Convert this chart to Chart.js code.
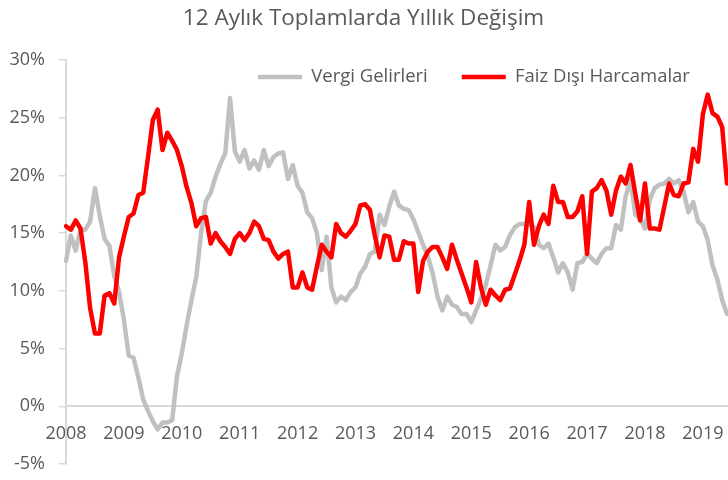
<!DOCTYPE html>
<html><head><meta charset="utf-8">
<script src="https://cdn.jsdelivr.net/npm/chart.js@4/dist/chart.umd.min.js"></script>
<style>html,body{margin:0;padding:0;background:#fff}</style>
</head><body>
<canvas id="c" width="728" height="480"></canvas>
<script>
const yearTicks = ['2008','2009','2010','2011','2012','2013','2014','2015','2016','2017','2018','2019'];
const monthNames = ['01','02','03','04','05','06','07','08','09','10','11','12'];
const pointCount = 138; // Jan 2008 - Jun 2019
const categories = [];
yearTicks.forEach(y => monthNames.forEach(m => categories.push(y + '-' + m)));
categories.length = pointCount;

const vergiGelirleri = [
 12.6,14.8,13.5,15.3,15.3,16.0,18.9,16.5,14.5,13.9,11.3,9.9,
 7.5,4.4,4.2,2.5,0.6,-0.4,-1.3,-2.0,-1.4,-1.4,-1.2,2.6,
 4.6,7.0,9.2,11.2,15.0,17.8,18.5,19.9,21.0,21.9,26.7,22.1,
 21.2,22.2,20.6,21.3,20.5,22.2,20.8,21.6,21.9,22.0,19.7,20.9,
 19.1,18.5,16.8,16.3,15.0,11.8,14.7,10.3,9.0,9.5,9.2,9.9,
 10.3,11.5,12.1,13.2,13.4,16.6,15.7,17.3,18.6,17.4,17.1,17.0,
 16.2,15.1,14.0,13.0,11.5,9.5,8.3,9.5,8.8,8.6,8.0,8.0,
 7.3,8.3,9.3,10.5,12.2,14.0,13.5,13.8,14.8,15.5,15.8,15.8,
 15.8,15.5,14.0,13.7,14.1,12.9,11.6,12.4,11.6,10.1,12.4,12.5,
 13.2,12.8,12.4,13.2,13.7,13.7,15.7,15.3,18.2,19.6,16.6,16.3,
 15.4,17.9,18.9,19.2,19.3,19.7,19.3,19.6,18.6,16.8,17.7,16.0,
 15.6,14.4,12.2,11.0,9.2,8.0
];
const faizDisiHarcamalar = [
 15.6,15.3,16.1,15.4,12.5,8.5,6.3,6.3,9.6,9.8,8.9,12.9,
 14.7,16.4,16.7,18.3,18.5,21.6,24.8,25.7,22.2,23.7,23.0,22.2,
 20.8,19.0,17.6,15.6,16.3,16.4,14.1,15.0,14.3,13.8,13.2,14.5,
 15.0,14.4,15.0,16.0,15.6,14.5,14.4,13.4,12.8,13.2,13.4,10.3,
 10.3,11.6,10.3,10.1,12.1,14.0,13.4,12.9,15.8,15.0,14.7,15.2,
 15.8,17.4,17.5,17.0,14.8,12.9,14.8,14.7,12.7,12.7,14.3,14.1,
 14.1,9.9,12.6,13.4,13.8,13.8,12.9,11.9,14.0,12.7,11.5,10.3,
 9.0,12.5,10.3,8.8,10.1,9.6,9.2,10.1,10.2,11.4,12.6,14.0,
 17.7,14.0,15.6,16.6,15.8,19.1,17.7,17.7,16.4,16.4,16.9,18.2,
 13.2,18.6,18.9,19.6,18.7,16.6,18.7,19.9,19.3,20.9,18.4,16.1,
 19.3,15.4,15.4,15.3,17.3,19.3,18.3,18.2,19.3,19.4,22.3,21.2,
 25.3,27.0,25.4,25.1,24.2,19.3
];
const yTickValues = [-5, 0, 5, 10, 15, 20, 25, 30];

const FONT = "'Open Sans', sans-serif";
const TXT = '#595959';
const AXIS = '#d9d9d9';
const LEGEND_GAP = 34;

// place the library legend as one row inside the plot, like the reference
const legendPlace = {
  id: 'legendPlace',
  afterUpdate(chart) {
    const lg = chart.legend;
    if (!lg) return;
    lg.maxHeight = 30;
    lg.fit();
    lg.left = 258 - LEGEND_GAP;
    lg.right = lg.left + lg.width + 20;
    lg.top = 77 - LEGEND_GAP - 9.25;
    lg.bottom = lg.top + 70;
  }
};

new Chart(document.getElementById('c'), {
  type: 'line',
  data: {
    labels: categories,
    datasets: [
      { label: 'Vergi Gelirleri', data: vergiGelirleri, borderColor: '#c0c0c0', backgroundColor: '#c0c0c0',
        borderWidth: 4.5, pointRadius: 0, tension: 0, order: 1, borderJoinStyle: 'round', borderCapStyle: 'round' },
      { label: 'Faiz Dışı Harcamalar', data: faizDisiHarcamalar, borderColor: '#ff0000', backgroundColor: '#ff0000',
        borderWidth: 4.5, pointRadius: 0, tension: 0, order: 0, borderJoinStyle: 'round', borderCapStyle: 'round' }
    ]
  },
  options: {
    responsive: false,
    animation: false,
    devicePixelRatio: 1,
    layout: { padding: { left: 0, right: 1, top: 0, bottom: 0 } },
    scales: {
      x: {
        type: 'category',
        position: { y: 0 },
        offset: false,
        grid: { display: false, drawTicks: false },
        border: { display: true, color: AXIS, width: 2 },
        afterFit: s => { s.paddingLeft = 0; s.paddingRight = 0; },
        ticks: {
          autoSkip: false, maxRotation: 0, minRotation: 0, padding: 17,
          color: TXT, font: { family: FONT, size: 18 },
          callback: (v, i) => (i % 12 === 0 ? yearTicks[i / 12] : null)
        }
      },
      y: {
        min: yTickValues[0], max: yTickValues[yTickValues.length - 1],
        afterBuildTicks: s => { s.ticks = yTickValues.map(v => ({ value: v })); },
        afterFit: s => { s.width = 66; s.paddingTop = 0; s.paddingBottom = 16; },
        grid: { drawOnChartArea: false, drawTicks: true, tickLength: 7, color: AXIS, lineWidth: 1.5 },
        border: { display: true, color: AXIS, width: 2 },
        ticks: { padding: 14, color: TXT, font: { family: FONT, size: 18 }, callback: v => v + '%' }
      }
    },
    plugins: {
      title: {
        display: true, text: '12 Aylık Toplamlarda Yıllık Değişim', color: TXT,
        font: { family: FONT, size: 22.5, weight: 'normal' }, padding: { top: 5, bottom: 28 }
      },
      legend: {
        position: 'chartArea', align: 'start',
        labels: {
          usePointStyle: true, pointStyle: 'line', pointStyleWidth: 44, padding: LEGEND_GAP,
          color: TXT, font: { family: FONT, size: 18.5 },
          sort: (a, b) => a.datasetIndex - b.datasetIndex
        }
      },
      tooltip: { enabled: false }
    }
  },
  plugins: [legendPlace]
});
</script>
</body></html>
